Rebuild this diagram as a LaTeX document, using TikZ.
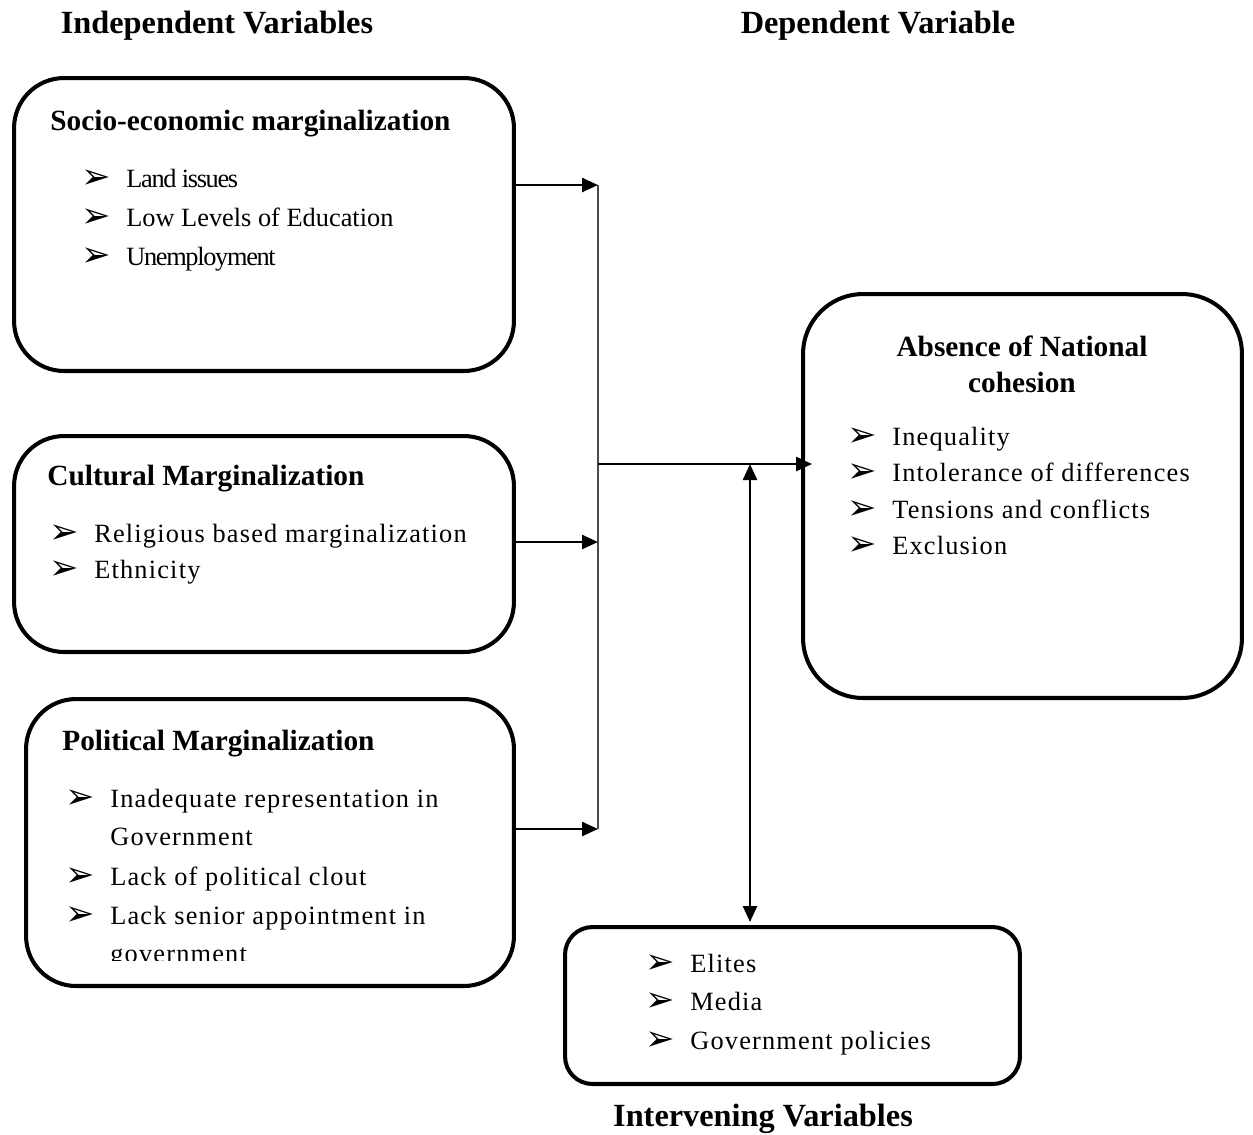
\documentclass[tikz,border=0pt]{standalone}
\usepackage{fontspec}
\setmainfont{Liberation Serif}
\newfontfamily\bulletfont{DejaVu Sans}
\usetikzlibrary{arrows.meta, positioning, calc}

\tikzset{
  varbox/.style={draw, line width=2.3pt, rounded corners=1cm, inner sep=0pt, outer sep=0pt},
  headtxt/.style={font=\fontsize{18.4}{22}\selectfont\bfseries, inner sep=0pt},
  boxhead/.style={font=\fontsize{16.7}{20}\selectfont\bfseries, anchor=mid west, inner sep=0pt},
  item/.style={font=\fontsize{15}{18}\selectfont\addfontfeatures{LetterSpace=4.5}, anchor=mid west, inner sep=0pt},
  tightitem/.style={font=\fontsize{15}{18}\selectfont\addfontfeatures{LetterSpace=-5}, anchor=mid west, inner sep=0pt},
  link/.style={line width=1.4pt, -{Triangle[length=0.32cm, width=0.28cm]}},
  trunk/.style={line width=0.7pt, black!70},
}
\newcommand{\tick}{\makebox[0.9cm][l]{\raisebox{-0.6pt}{\bulletfont\fontsize{20}{20}\selectfont ➢}}}
\newcommand{\notick}{\makebox[0.9cm][l]{}}

\begin{document}
\begin{tikzpicture}[x=0.02cm, y=-0.02cm]
    \useasboundingbox (0,0) rectangle (1253,1134);

    % Column headings
    \node[headtxt] (indep) at (217,26) {Independent Variables};
    \node[headtxt] (dep) at (878,26) {Dependent Variable};
    \node[headtxt] (interv-lbl) at (763,1119) {Intervening Variables};

    % Independent variables
    \node[varbox, minimum width=10cm, minimum height=5.86cm] (socio) at (264,224.5) {};
    \node[boxhead] (socio-head) at (50,126) {Socio-economic marginalization};
    \node[tightitem] (socio-1) at (81,183) {\tick Land issues};
    \node[item, font=\fontsize{15}{18}\selectfont] (socio-2) at (81,222) {\tick Low Levels of Education};
    \node[tightitem] (socio-3) at (81,261) {\tick Unemployment};

    \node[varbox, minimum width=10cm, minimum height=4.32cm] (cult) at (264,544) {};
    \node[boxhead] (cult-head) at (47,481) {Cultural Marginalization};
    \foreach \txt [count=\i] in {Religious based marginalization, Ethnicity} {
        \node[item] (cult-\i) at (49,{538+36*(\i-1)}) {\tick\txt};
    }

    \node[varbox, minimum width=9.76cm, minimum height=5.74cm] (polit) at (270,842.5) {};
    \node[boxhead] (polit-head) at (62,746) {Political Marginalization};
    \node[item] (polit-1) at (65,803) {\tick Inadequate representation in};
    \node[item] (polit-1b) at (65,841) {\notick Government};
    \node[item] (polit-2) at (65,881) {\tick Lack of political clout};
    \node[item] (polit-3) at (65,920) {\tick Lack senior appointment in};
    \begin{scope}
        \clip (0,0) rectangle (1253,960);
        \node[item] (polit-3b) at (65,958) {\notick government};
    \end{scope}

    % Dependent variable
    \node[varbox, rounded corners=1.2cm, minimum width=8.78cm, minimum height=8.08cm] (absence) at (1022.5,496) {};
    \node[headtxt, font=\fontsize{16.7}{20.5}\selectfont\bfseries, align=center] (absence-head) at (1022,364) {Absence of National\\cohesion};
    \foreach \txt [count=\i] in {Inequality, Intolerance of differences, Tensions and conflicts, Exclusion} {
        \node[item] (absence-\i) at (847,{441+36.5*(\i-1)}) {\tick\txt};
    }

    % Intervening variables
    \node[varbox, rounded corners=0.55cm, minimum width=9.1cm, minimum height=3.14cm] (interv) at (792.5,1005.5) {};
    \foreach \txt [count=\i] in {Elites, Media, Government policies} {
        \node[item] (interv-\i) at (645,{968+38.5*(\i-1)}) {\tick\txt};
    }

    % Connectors
    \coordinate (j1) at (598,185);
    \coordinate (j2) at (598,542);
    \coordinate (j3) at (598,829);
    \coordinate (hub) at (598,464);
    \coordinate (mid) at (750,464);

    \draw[trunk] (j1) -- (j3);
    \draw[link] (socio.east |- j1) -- (j1);
    \draw[link] (cult.east |- j2) -- (j2);
    \draw[link] (polit.east |- j3) -- (j3);
    \draw[link, shorten >=-0.18cm] (hub) -- (absence.west |- hub);
    \draw[link, {Triangle[length=0.32cm, width=0.28cm]}-{Triangle[length=0.32cm, width=0.28cm]}, shorten >=0.1cm] (mid) -- (interv.north -| mid);
\end{tikzpicture}
\end{document}
